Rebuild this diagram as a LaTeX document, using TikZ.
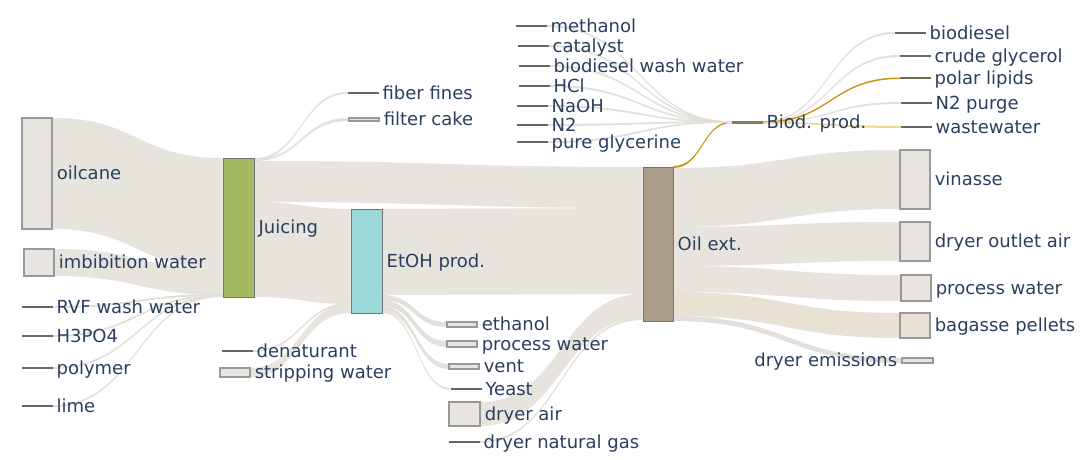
\documentclass[tikz,border=0pt]{standalone}
\usepackage{fontspec}
\setmainfont{DejaVu Sans}
\usepackage{tikz}
\usetikzlibrary{fit,calc,backgrounds}
\definecolor{txt}{HTML}{2A3F5F}
\definecolor{linkc}{HTML}{E7E4DE}
\definecolor{thinc}{HTML}{E3E0DB}
\definecolor{bagc}{HTML}{E8E2D4}
\definecolor{goldc}{HTML}{C8930F}
\definecolor{paleg}{HTML}{EED88C}
\definecolor{juicec}{HTML}{A4BA62}
\definecolor{etohc}{HTML}{9DD8D9}
\definecolor{oilc}{HTML}{A99D89}
\definecolor{biodc}{HTML}{857A5C}
\definecolor{polarc}{HTML}{6B6A50}
\definecolor{boxc}{HTML}{E8E5E1}

% band between two nodes: src, src top/bottom, tgt, tgt top/bottom
\newcommand{\flow}[7][band]{%
  \path[#1] let \p1=(#2.east), \p2=(#5.west), \p3=(0,#3), \p4=(0,#4),
    \p5=(0,#6), \p6=(0,#7), \p7=($(\p1)!.5!(\p2)$) in
    (\x1,\y3) .. controls (\x7,\y3) and (\x7,\y5) .. (\x2,\y5)
    -- (\x2,\y6) .. controls (\x7,\y6) and (\x7,\y4) .. (\x1,\y4) -- cycle;}

\begin{document}
\begin{tikzpicture}[
  x=0.75pt, y=-0.75pt,
  lbl/.style  = {font=\fontsize{13.5}{16}\selectfont, text=txt, inner sep=3pt,
                 text height=9.45pt, text depth=0pt},
  sink/.style = {rectangle, draw=black!40, fill=boxc, line width=0.8pt, inner sep=0pt},
  proc/.style = {rectangle, draw=black!55, line width=0.6pt, inner sep=0pt},
  stub/.style = {rectangle, draw=black!60, fill=black!60, line width=0.5pt, inner sep=0pt},
  band/.style = {fill=linkc},
  thin/.style = {fill=thinc},
]
  \useasboundingbox (0,0) rectangle (1081,460);

  % sources into juicing
  \node[sink, fit={(22,118) (52,229)}, label={[lbl]east:oilcane}] (oilcane) {};
  \node[sink, fit={(24,249) (54,276)}, label={[lbl]east:imbibition water}] (imbib) {};
  \node[stub, fit={(22,306.5) (52,307.5)}, label={[lbl]east:RVF wash water}] (rvf) {};
  \node[stub, fit={(22,335.5) (52,336.5)}, label={[lbl]east:H3PO4}] (hpo) {};
  \node[stub, fit={(22,367.5) (52,368.5)}, label={[lbl]east:polymer}] (polymer) {};
  \node[stub, fit={(22,405.5) (52,406.5)}, label={[lbl]east:lime}] (lime) {};

  \node[proc, fill=juicec, fit={(223,158) (254,297)}, label={[lbl]east:Juicing}] (juicing) {};
  \node[stub, fit={(348,92.5) (378,93.5)}, label={[lbl]east:fiber fines}] (fines) {};
  \node[sink, fit={(349,118) (379,121)}, label={[lbl]east:filter cake}] (cake) {};
  \node[stub, fit={(222,350.5) (252,351.5)}, label={[lbl]east:denaturant}] (denat) {};
  \node[sink, fit={(220,368) (250,377)}, label={[lbl]east:stripping water}] (strip) {};

  \node[proc, fill=etohc, fit={(351,209) (382,313)}, label={[lbl]east:EtOH prod.}] (etoh) {};
  \node[sink, fit={(447,322) (477,327)}, label={[lbl]east:ethanol}] (ethanol) {};
  \node[sink, fit={(447,341) (477,347)}, label={[lbl]east:process water}] (pwater) {};
  \node[sink, fit={(449,364) (479,369)}, label={[lbl]east:vent}] (vent) {};
  \node[stub, fit={(451,388.5) (481,389.5)}, label={[lbl]east:Yeast}] (yeast) {};
  \node[sink, fit={(449,402) (480,426)}, label={[lbl]east:dryer air}] (dryair) {};
  \node[stub, fit={(449,441.5) (479,442.5)}, label={[lbl]east:dryer natural gas}] (drygas) {};

  \node[proc, fill=oilc, fit={(643,167) (673,321)}, label={[lbl]east:Oil ext.}] (oilext) {};
  \node[sink, fit={(900,150) (930,209)}, label={[lbl]east:vinasse}] (vinasse) {};
  \node[sink, fit={(900,222) (930,261)}, label={[lbl]east:dryer outlet air}] (outair) {};
  \node[sink, fit={(901,275) (931,301)}, label={[lbl]east:process water}] (pwatertwo) {};
  \node[sink, fill=bagc, fit={(900,313) (930,338)}, label={[lbl]east:bagasse pellets}] (pellets) {};
  \node[sink, fit={(902,358) (933,363)}, label={[lbl]west:dryer emissions}] (emis) {};

  % biodiesel section
  \node[stub, draw=biodc, fill=biodc, fit={(732,121.5) (762,123)}, label={[lbl]east:Biod. prod.}] (biod) {};
  \node[stub, fit={(516,25.5) (546,26.5)}, label={[lbl]east:methanol}] (methanol) {};
  \node[stub, fit={(518,45.5) (548,46.5)}, label={[lbl]east:catalyst}] (catalyst) {};
  \node[stub, fit={(519,65.5) (549,66.5)}, label={[lbl]east:biodiesel wash water}] (washw) {};
  \node[stub, fit={(519,85.5) (549,86.5)}, label={[lbl]east:HCl}] (hcl) {};
  \node[stub, fit={(517,105.5) (547,106.5)}, label={[lbl]east:NaOH}] (naoh) {};
  \node[stub, fit={(517,124.5) (547,125.5)}, label={[lbl]east:N2}] (ntwo) {};
  \node[stub, fit={(517,141.5) (547,142.5)}, label={[lbl]east:pure glycerine}] (glycerine) {};
  \node[stub, fit={(895,32.5) (925,33.5)}, label={[lbl]east:biodiesel}] (biodiesel) {};
  \node[stub, fit={(900,55.5) (930,56.5)}, label={[lbl]east:crude glycerol}] (crude) {};
  \node[stub, draw=polarc, fill=polarc, fit={(900,77.5) (930,78.5)}, label={[lbl]east:polar lipids}] (polar) {};
  \node[stub, fit={(901,102.5) (931,103.5)}, label={[lbl]east:N2 purge}] (purge) {};
  \node[stub, fit={(901,126.5) (931,127.5)}, label={[lbl]east:wastewater}] (wastew) {};

  \begin{pgfonlayer}{background}
    \flow{oilcane}{118}{229}{juicing}{158}{269}
    \flow{imbib}{249}{276}{juicing}{269}{295}
    \flow[thin]{rvf}{306}{308}{juicing}{294}{296}
    \flow[thin]{hpo}{335}{337}{juicing}{294.5}{296.5}
    \flow[thin]{polymer}{367}{369}{juicing}{295}{297}
    \flow[thin]{lime}{405}{407}{juicing}{295}{297}

    \flow[thin]{juicing}{158}{160}{fines}{92}{94}
    \flow[thin]{juicing}{159}{161}{cake}{118}{121}
    \flow{juicing}{161}{202}{oilext}{167}{208}
    \flow{juicing}{202}{297}{etoh}{209}{304}
    \flow[thin]{denat}{350}{352}{etoh}{303}{305}
    \flow{strip}{368}{377}{etoh}{304}{313}

    \flow{etoh}{209}{295}{oilext}{208}{294}
    \flow[thin]{etoh}{295}{300}{ethanol}{322}{327}
    \flow[thin]{etoh}{300}{306}{pwater}{341}{347}
    \flow[thin]{etoh}{306}{311}{vent}{364}{369}
    \flow[thin]{etoh}{311}{313}{yeast}{388}{390}
    \flow{dryair}{402}{426}{oilext}{294}{318}
    \flow[thin]{drygas}{441}{443}{oilext}{318}{320}

    \flow[fill=goldc]{oilext}{166}{168}{biod}{121.5}{123}
    \flow{oilext}{168}{227}{vinasse}{150}{209}
    \flow{oilext}{227}{266}{outair}{222}{261}
    \flow{oilext}{266}{292}{pwatertwo}{275}{301}
    \flow[fill=bagc]{oilext}{292}{316}{pellets}{313}{338}
    \flow[thin]{oilext}{316}{321}{emis}{358}{363}

    \flow[thin]{methanol}{25}{27}{biod}{121.2}{122.8}
    \flow[thin]{catalyst}{45}{47}{biod}{121.2}{122.8}
    \flow[thin]{washw}{65}{67}{biod}{121.2}{122.8}
    \flow[thin]{hcl}{85}{87}{biod}{121.2}{122.8}
    \flow[thin]{naoh}{105}{107}{biod}{121.2}{122.8}
    \flow[thin]{ntwo}{124}{126}{biod}{121.2}{122.8}
    \flow[thin]{glycerine}{141}{143}{biod}{121.2}{122.8}

    \flow[thin]{biod}{121}{122.5}{biodiesel}{32}{34}
    \flow[thin]{biod}{121.5}{123}{crude}{55}{57}
    \flow[fill=goldc]{biod}{121.5}{123}{polar}{77.5}{79}
    \flow[thin]{biod}{122}{123}{purge}{102}{104}
    \flow[fill=paleg]{biod}{122}{123.5}{wastew}{126}{128}
  \end{pgfonlayer}
\end{tikzpicture}
\end{document}
